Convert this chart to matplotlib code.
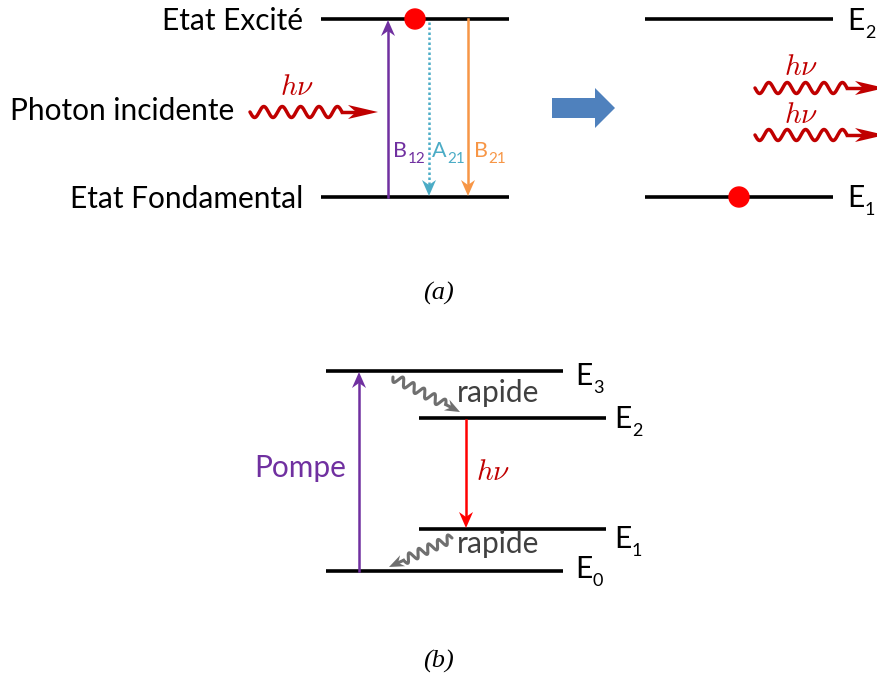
import numpy as np
import matplotlib
matplotlib.use("Agg")
import matplotlib.pyplot as plt
from matplotlib.patches import Polygon, Circle

plt.rcParams['font.family'] = ['Lato', 'DejaVu Sans']

W, H = 877, 680
fig = plt.figure(figsize=(W / 100, H / 100), dpi=100)
ax = fig.add_axes([0, 0, 1, 1])
ax.set_xlim(0, W)
ax.set_ylim(H, 0)
ax.axis('off')
renderer = fig.canvas.get_renderer()

# ---- panel (a) data (pixel layout) ----
a_levels_y = [19, 197]                 # upper, lower level
a_left_x = [321, 509]
a_right_x = [645, 833]
a_state_labels = ["Etat Excité", "Etat Fondamental"]
a_state_baselines = [30, 208]
a_right_labels = [("E", "2"), ("E", "1")]
a_right_baselines = [30, 207]
a_trans_x = [388, 429, 468]
a_trans_label_x = [393, 432, 474]
a_trans_labels = [("B", "12"), ("A", "21"), ("B", "21")]
a_trans_colors = ["#7030a0", "#4bacc6", "#f79646"]

# ---- panel (b) data ----
b_levels_y = [571, 529, 418, 371]      # E0, E1, E2, E3
b_levels_x = [(326, 563), (419, 606), (419, 606), (326, 563)]
b_labels = [("E", "0"), ("E", "1"), ("E", "2"), ("E", "3")]
b_label_x = [575, 614, 614, 575]
b_label_baselines = [578, 548, 428, 385]

PHOTON = "#c00000"
LW = 2.6
FS = 21.5


def level(x0, x1, y):
    ax.plot([x0, x1], [y, y], color='black', lw=LW, solid_capstyle='butt')


def sub_text(x, yb, main, sub, fs, sfs, drop, color='black'):
    t = ax.text(x, yb, main, fontsize=fs, color=color, ha='left', va='baseline')
    bb = t.get_window_extent(renderer=renderer)
    x_end = ax.transData.inverted().transform((bb.x1, bb.y0))[0]
    ax.text(x_end + 0.5, yb + drop, sub, fontsize=sfs, color=color, ha='left', va='baseline')


def stealth(tip, u, length, hw, notch, color, alpha=1.0):
    tip = np.asarray(tip, float)
    u = np.asarray(u, float) / np.hypot(*u)
    n = np.array([-u[1], u[0]])
    back = tip - u * length
    pts = [tip, back + n * hw, tip - u * (length - notch), back - n * hw]
    ax.add_patch(Polygon(pts, closed=True, color=color, lw=0, alpha=alpha, zorder=4))


def arrow(x0, y0, x1, y1, color, lw=1.8, ls='-'):
    u = np.array([x1 - x0, y1 - y0], float)
    L = np.hypot(*u)
    u /= L
    end = np.array([x1, y1]) - u * 10
    ax.plot([x0, end[0]], [y0, end[1]], color=color, lw=lw, linestyle=ls)
    stealth((x1, y1), u, 16, 7, 5, color)


def wavy(x0, y0, x1, y1, n, amp, color, lw, straight, hl, hw, notch, alpha=1.0):
    d = np.array([x1 - x0, y1 - y0], float)
    L = np.hypot(*d)
    u = d / L
    nrm = np.array([-u[1], u[0]])
    Lw = L - straight
    t = np.linspace(0, Lw, 400)
    s = amp * np.sin(2 * np.pi * n * t / Lw)
    pts = np.outer(t, u) + np.outer(s, nrm) + np.array([x0, y0])
    ax.plot(pts[:, 0], pts[:, 1], color=color, lw=lw, alpha=alpha, solid_capstyle='round')
    p = np.array([x0, y0]) + u * Lw
    q = np.array([x1, y1]) - u * (hl - notch)
    ax.plot([p[0], q[0]], [p[1], q[1]], color=color, lw=lw, alpha=alpha)
    stealth((x1, y1), u, hl, hw, notch, color, alpha)


# ---------- panel (a) ----------
for y in a_levels_y:
    level(*a_left_x, y)
    level(*a_right_x, y)

ax.text(303, a_state_baselines[0], a_state_labels[0], fontsize=FS, ha='right', va='baseline')
ax.text(303, a_state_baselines[1], a_state_labels[1], fontsize=FS, ha='right', va='baseline')
ax.text(10, 120, "Photon incidente", fontsize=FS, ha='left', va='baseline')

for (m, s), yb in zip(a_right_labels, a_right_baselines):
    sub_text(847, yb, m, s, FS, 13, 8)

# transitions
arrow(a_trans_x[0], a_levels_y[1], a_trans_x[0], a_levels_y[0] + 1, a_trans_colors[0])
arrow(a_trans_x[1], a_levels_y[0] + 3, a_trans_x[1], a_levels_y[1] - 1, a_trans_colors[1], ls=(0, (1, 1.0)))
arrow(a_trans_x[2], a_levels_y[0], a_trans_x[2], a_levels_y[1] - 1, a_trans_colors[2])
for x, (m, s), c in zip(a_trans_label_x, a_trans_labels, a_trans_colors):
    sub_text(x, 157, m, s, 15.5, 11, 6, color=c)

# electron dots
ax.add_patch(Circle((415, 19), 10, color='#ff0000', zorder=5))
ax.add_patch(Circle((739, 197), 10, color='#ff0000', zorder=5))

# incident photon
wavy(250, 112, 378, 112, 5, 5.5, PHOTON, 2.5, 36, 30, 7, 8)
ax.text(297, 95, r"$h\nu$", math_fontfamily='cm', fontsize=21, color=PHOTON, ha='center', va='baseline')

# emitted photons
for yy, lb in [(88, 75), (135, 123)]:
    wavy(755, yy, 885, yy, 5, 5.5, PHOTON, 2.5, 38, 30, 7, 8)
    ax.text(801, lb, r"$h\nu$", math_fontfamily='cm', fontsize=21, color=PHOTON, ha='center', va='baseline')

# blue block arrow
blk = Polygon([(552, 98), (595, 98), (595, 88), (615, 108), (595, 128), (595, 118), (552, 118)],
              closed=True, color='#4f81bd', lw=0)
ax.add_patch(blk)

ax.text(438, 300, "(a)", fontsize=19, family='Liberation Serif', style='italic', ha='center', va='baseline')

# ---------- panel (b) ----------
for (x0, x1), y in zip(b_levels_x, b_levels_y):
    level(x0, x1, y)
for x, yb, (m, s) in zip(b_label_x, b_label_baselines, b_labels):
    sub_text(x, yb, m, s, FS, 13, 8)

arrow(359, b_levels_y[0], 359, b_levels_y[3] + 1, '#7030a0')
ax.text(300, 477, "Pompe", fontsize=FS, color='#7030a0', ha='center', va='baseline')

arrow(466, b_levels_y[2] + 2, 466, b_levels_y[1] - 1, '#ff0000')
ax.text(493, 480, r"$h\nu$", math_fontfamily='cm', fontsize=21, color=PHOTON, ha='center', va='baseline')

wavy(393, 377, 460, 412, 5, 4.5, '#6f6f6f', 2.2, 16, 15, 6, 5)
wavy(452, 538, 389, 567, 5, 4.5, '#6f6f6f', 2.2, 16, 15, 6, 5)
ax.text(457, 402, "rapide", fontsize=FS, color='#404040', ha='left', va='baseline')
ax.text(457, 553, "rapide", fontsize=FS, color='#404040', ha='left', va='baseline')

ax.text(438, 668, "(b)", fontsize=19, family='Liberation Serif', style='italic', ha='center', va='baseline')

fig.savefig("out.png", dpi=100)
